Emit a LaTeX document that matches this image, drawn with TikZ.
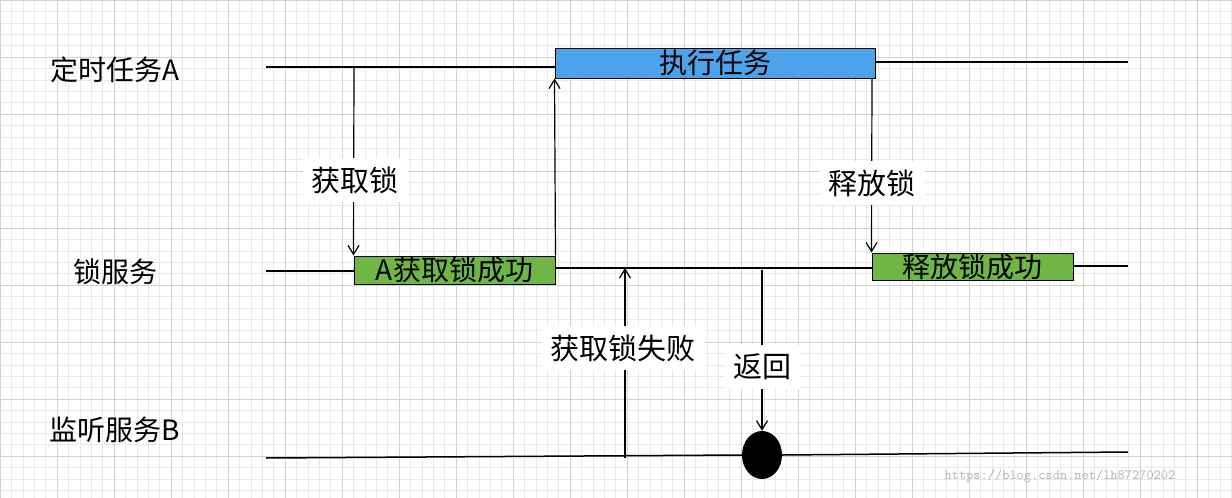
\documentclass[tikz,border=0pt]{standalone}
\usepackage{fontspec}
\setmainfont{Noto Sans CJK SC}
\usetikzlibrary{arrows.meta,shapes.geometric}
\begin{document}
\begin{tikzpicture}[x=1pt,y=-1pt,
  lbl/.style={fill=white,inner sep=9pt,font=\fontsize{29}{33}\selectfont},
  side/.style={font=\fontsize{28}{32}\selectfont},
  bar/.style={draw=black,line width=1pt,inner sep=0pt,font=\fontsize{28}{32}\selectfont},
  ln/.style={line width=1.5pt},
  arr/.style={line width=1.2pt,-{Straight Barb[length=9pt,width=11pt]}}]
\useasboundingbox (0,0) rectangle (1232,498);
\fill[white] (0,0) rectangle (1232,498);
\foreach \i in {0,...,108} {\draw[black!9,line width=0.5pt] (\i*11.4,0) -- (\i*11.4,498);}
\foreach \i in {0,...,44} {\draw[black!9,line width=0.5pt] (0,\i*11.4) -- (1232,\i*11.4);}
\foreach \i in {0,...,21} {\draw[black!18,line width=0.7pt] (\i*57,0) -- (\i*57,498);}
\foreach \i in {0,...,8} {\draw[black!18,line width=0.7pt] (0,\i*57) -- (1232,\i*57);}
% left labels
\node[side] (la) at (115,70) {定时任务A};
\node[side] (lb) at (115,272) {锁服务};
\node[side] (lc) at (115,430) {监听服务B};
% bars
\node[bar,fill={rgb,255:red,77;green,163;blue,234},minimum width=320pt,minimum height=30pt] (exec) at (715,63) {执行任务};
\node[bar,fill={rgb,255:red,112;green,182;blue,70},minimum width=201pt,minimum height=28pt] (ok) at (454.5,270) {A获取锁成功};
\node[bar,fill={rgb,255:red,112;green,182;blue,70},minimum width=201pt,minimum height=27pt] (rel) at (972.5,266.5) {释放锁成功};
% coordinates
\coordinate (a0) at (266,67); \coordinate (a1) at (1128,62);
\coordinate (b0) at (266,271); \coordinate (b1) at (1128,266);
\coordinate (c0) at (266,458); \coordinate (c1) at (1128,452);
\draw[ln] (a0) -- (exec.west |- 0,67);
\draw[ln] (exec.east |- 0,62) -- (a1);
\draw[ln] (b0) -- (ok.west |- 0,271);
\draw[ln] (ok.east |- 0,268) -- (rel.west |- 0,268);
\draw[ln] (rel.east |- 0,266) -- (b1);
\node[fill=black,ellipse,minimum width=40pt,minimum height=48pt,inner sep=0pt] (dot) at (762,455) {};
\draw[ln] (c0) -- (dot.west);
\draw[ln] (dot.east) -- (c1);
% arrows
\coordinate (g0) at (354,67);
\draw[arr] (g0) -- (ok.north west);
\node[lbl] (tg) at (355,180) {获取锁};
\draw[arr] (ok.north east) -- (exec.south west);
\coordinate (r0) at (872,78);
\draw[arr] (r0) -- (rel.north west);
\node[lbl] (tr) at (872,183) {释放锁};
\coordinate (f0) at (625,458); \coordinate (f1) at (625,268);
\draw[arr] (f0) -- (f1);
\node[lbl] (tf) at (623,348) {获取锁失败};
\coordinate (h0) at (762,270);
\draw[arr] (h0) -- (dot.north);
\node[lbl] (th) at (762,367) {返回};
\node[text=black!30,font=\fontsize{14}{16}\ttfamily] (wm) at (1060,476) {https://blog.csdn.net/lh87270202};
\end{tikzpicture}
\end{document}
